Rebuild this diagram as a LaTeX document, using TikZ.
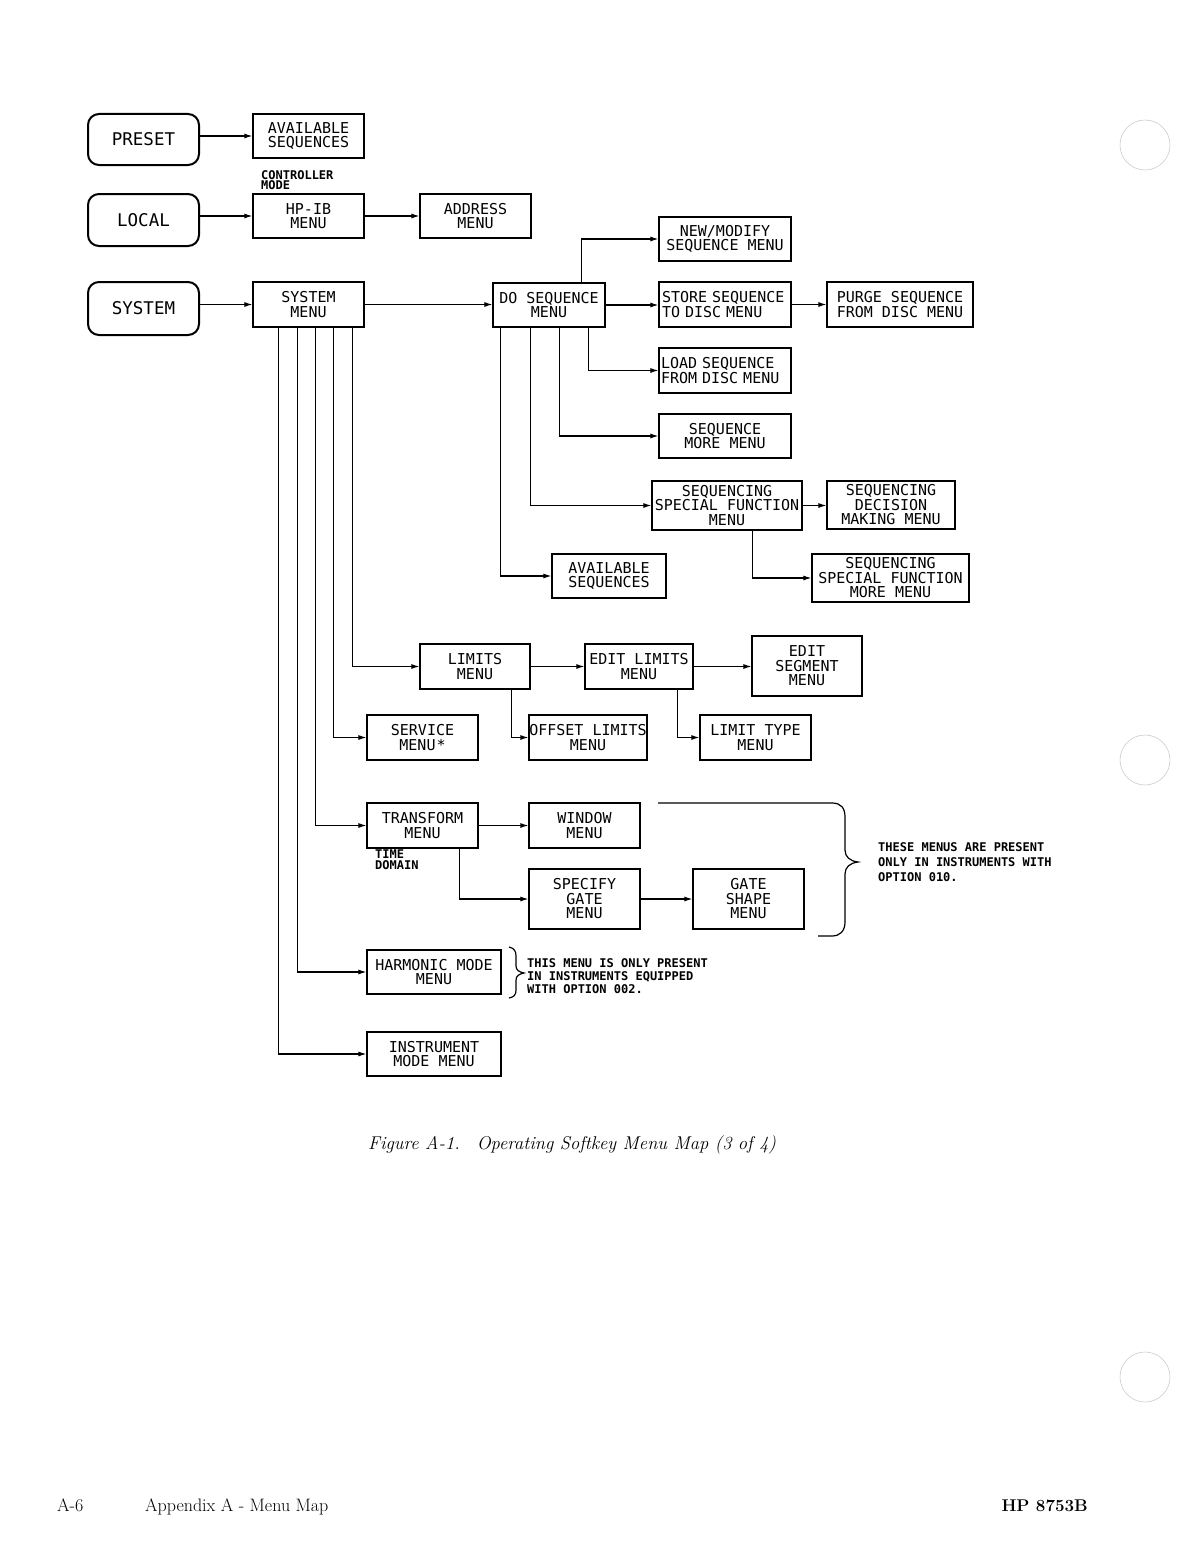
\documentclass[tikz,border=0pt]{standalone}
\usepackage{fontspec}
\newfontfamily\plot{DejaVu Sans Mono}
\usetikzlibrary{arrows.meta}
\begin{document}
\begin{tikzpicture}[x=1pt,y=-1pt,
  mbox/.style={draw, line width=1.2pt, inner sep=0pt, align=center, font=\plot\fontsize{15}{14.5}\selectfont},
  keybox/.style={draw, line width=2pt, rounded corners=11pt, inner sep=0pt, minimum width=111pt, font=\plot\fontsize{17.5}{18}\selectfont},
  arr/.style={line width=1.1pt, -{Latex[length=8pt,width=5pt]}},
  note/.style={font=\plot\bfseries\fontsize{12}{13}\selectfont, align=left, inner sep=0pt},
  brace/.style={line width=1.2pt},
  punch/.style={gray!40, line width=0.6pt}]
\useasboundingbox (0,0) rectangle (1176,1544);
\fill[white] (0,0) rectangle (1176,1544);

% hard keys
\node[keybox, minimum height=51pt] (preset) at (143.5,139.5) {PRESET};
\node[keybox, minimum height=52pt] (local) at (143.5,220) {LOCAL};
\node[keybox, minimum height=53pt] (syskey) at (143.5,308.5) {SYSTEM};

% menus
\node[mbox, minimum width=111pt, minimum height=44pt] (avail1) at (308.5,136) {AVAILABLE\\SEQUENCES};
\node[mbox, minimum width=111pt, minimum height=44pt] (hpib) at (308.5,216) {HP-IB\\MENU};
\node[mbox, minimum width=111pt, minimum height=44pt] (address) at (475.5,216) {ADDRESS\\MENU};
\node[mbox, minimum width=111pt, minimum height=45pt] (sysmenu) at (308.5,304.5) {SYSTEM\\MENU};
\node[mbox, minimum width=112pt, minimum height=44pt] (doseq) at (549,305) {DO SEQUENCE\\MENU};
\node[mbox, minimum width=132pt, minimum height=44pt] (newmod) at (725,239) {NEW/MODIFY\\SEQUENCE MENU};
\node[mbox, minimum width=132pt, minimum height=45pt, text width=126pt, align=left] (store) at (725,304.5) {STORE SEQUENCE\\TO DISC MENU};
\node[mbox, minimum width=146pt, minimum height=45pt] (purge) at (900,304.5) {PURGE SEQUENCE\\FROM DISC MENU};
\node[mbox, minimum width=132pt, minimum height=45pt, text width=128pt, align=left] (load) at (725,370.5) {LOAD SEQUENCE\\FROM DISC MENU};
\node[mbox, minimum width=132pt, minimum height=44pt] (seqmore) at (725,436) {SEQUENCE\\MORE MENU};
\node[mbox, minimum width=150pt, minimum height=49pt] (ssf) at (727,505.5) {SEQUENCING\\SPECIAL FUNCTION\\MENU};
\node[mbox, minimum width=128pt, minimum height=48pt] (decision) at (891,505) {SEQUENCING\\DECISION\\MAKING MENU};
\node[mbox, minimum width=157pt, minimum height=48pt] (ssfmore) at (890.5,578) {SEQUENCING\\SPECIAL FUNCTION\\MORE MENU};
\node[mbox, minimum width=114pt, minimum height=44pt] (avail2) at (609,576) {AVAILABLE\\SEQUENCES};
\node[mbox, minimum width=110pt, minimum height=45pt] (limits) at (475,666.5) {LIMITS\\MENU};
\node[mbox, minimum width=108pt, minimum height=45pt] (editlim) at (639,666.5) {EDIT LIMITS\\MENU};
\node[mbox, minimum width=110pt, minimum height=60pt] (editseg) at (807,666) {EDIT\\SEGMENT\\MENU};
\node[mbox, minimum width=111pt, minimum height=45pt] (service) at (422.5,737.5) {SERVICE\\MENU\hspace{1pt}*};
\node[mbox, minimum width=118pt, minimum height=45pt] (offset) at (588,737.5) {OFFSET LIMITS\\MENU};
\node[mbox, minimum width=111pt, minimum height=45pt] (limtype) at (755.5,737.5) {LIMIT TYPE\\MENU};
\node[mbox, minimum width=111pt, minimum height=45pt] (transform) at (422.5,825.5) {TRANSFORM\\MENU};
\node[mbox, minimum width=111pt, minimum height=45pt] (window) at (584.5,825.5) {WINDOW\\MENU};
\node[mbox, minimum width=111pt, minimum height=60pt] (specify) at (584.5,899) {SPECIFY\\GATE\\MENU};
\node[mbox, minimum width=111pt, minimum height=60pt] (gateshape) at (748.5,899) {GATE\\SHAPE\\MENU};
\node[mbox, minimum width=134pt, minimum height=44pt] (harmonic) at (434,972) {HARMONIC MODE\\MENU};
\node[mbox, minimum width=134pt, minimum height=44pt] (instmode) at (434,1054) {INSTRUMENT\\MODE MENU};

% notes
\node[note, anchor=north west, font=\plot\bfseries\fontsize{12}{10.5}\selectfont] (ctrl) at (261,170) {CONTROLLER\\MODE};
\node[note, anchor=north west, font=\plot\bfseries\fontsize{12}{11}\selectfont] (tdom) at (375,850) {TIME\\DOMAIN};
\node[note, anchor=west, font=\plot\bfseries\fontsize{12}{15}\selectfont] (opt10) at (878,862) {THESE MENUS ARE PRESENT\\ONLY IN INSTRUMENTS WITH\\OPTION 010.};
\node[note, anchor=west, font=\plot\bfseries\fontsize{12}{13}\selectfont] (opt2) at (527,976) {THIS MENU IS ONLY PRESENT\\IN INSTRUMENTS EQUIPPED\\WITH OPTION 002.};

% connectors
\draw[arr] (preset.east |- avail1.west) -- (avail1.west);
\draw[arr] (local.east |- hpib.west) -- (hpib.west);
\draw[arr] (hpib.east) -- (hpib.east -| address.west);
\draw[arr] (syskey.east |- sysmenu.west) -- (sysmenu.west);
\draw[arr] (sysmenu.east) -- (sysmenu.east -| doseq.west);
\draw[arr] ([xshift=89pt]doseq.north west) |- (newmod.west);
\draw[arr] (doseq.east) -- (doseq.east -| store.west);
\draw[arr] (store.east) -- (store.east -| purge.west);
\draw[arr] ([xshift=96pt]doseq.south west) |- (load.west);
\draw[arr] ([xshift=67pt]doseq.south west) |- (seqmore.west);
\draw[arr] ([xshift=38pt]doseq.south west) |- (ssf.west);
\draw[arr] ([xshift=8pt]doseq.south west) |- (avail2.west);
\draw[arr] (ssf.east) -- (ssf.east -| decision.west);
\draw[arr] ([xshift=101pt]ssf.south west) |- (ssfmore.west);
\draw[arr] ([xshift=100pt]sysmenu.south west) |- (limits.west);
\draw[arr] ([xshift=81pt]sysmenu.south west) |- (service.west);
\draw[arr] ([xshift=63pt]sysmenu.south west) |- (transform.west);
\draw[arr] ([xshift=45pt]sysmenu.south west) |- (harmonic.west);
\draw[arr] ([xshift=26pt]sysmenu.south west) |- (instmode.west);
\draw[arr] (limits.east) -- (limits.east -| editlim.west);
\draw[arr] (editlim.east) -- (editlim.east -| editseg.west);
\draw[arr] ([xshift=92pt]limits.south west) |- (offset.west);
\draw[arr] ([xshift=93pt]editlim.south west) |- (limtype.west);
\draw[arr] (transform.east) -- (transform.east -| window.west);
\draw[arr] ([xshift=93pt]transform.south west) |- (specify.west);
\draw[arr] (specify.east) -- (specify.east -| gateshape.west);

% braces
\draw[brace] (658,803) -- (832,803) .. controls (841,803) and (845,808) .. (845,817) -- (845,850)
  .. controls (845,857) and (850,861) .. (858,862) .. controls (850,863) and (845,867) .. (845,874)
  -- (845,922) .. controls (845,931) and (840,936) .. (832,936) -- (818,936);
\draw[brace] (509,947) .. controls (514,948) and (516,951) .. (516,956) -- (516,966)
  .. controls (516,970) and (519,972) .. (524,973) .. controls (519,974) and (516,976) .. (516,980)
  -- (516,990) .. controls (516,995) and (514,997) .. (509,998);

% caption and footer
\node[anchor=west, inner sep=0pt, font=\itshape\fontsize{18.5}{22}\selectfont] (caption) at (368,1145) {Figure A-1.\hspace{17pt}Operating Softkey Menu Map (3 of 4)};
\node[anchor=base west, inner sep=0pt, font=\fontsize{18}{20}\selectfont] (pg) at (57,1511) {A-6};
\node[anchor=base west, inner sep=0pt, font=\fontsize{18}{20}\selectfont] (app) at (145,1511) {Appendix A - Menu Map};
\node[anchor=base east, inner sep=0pt, font=\bfseries\fontsize{17}{20}\selectfont] (hp) at (1088,1511) {HP 8753B};

% punch holes
\draw[punch] (1145,145) circle (25);
\draw[punch] (1145,760) circle (25);
\draw[punch] (1145,1377) circle (25);
\end{tikzpicture}
\end{document}
